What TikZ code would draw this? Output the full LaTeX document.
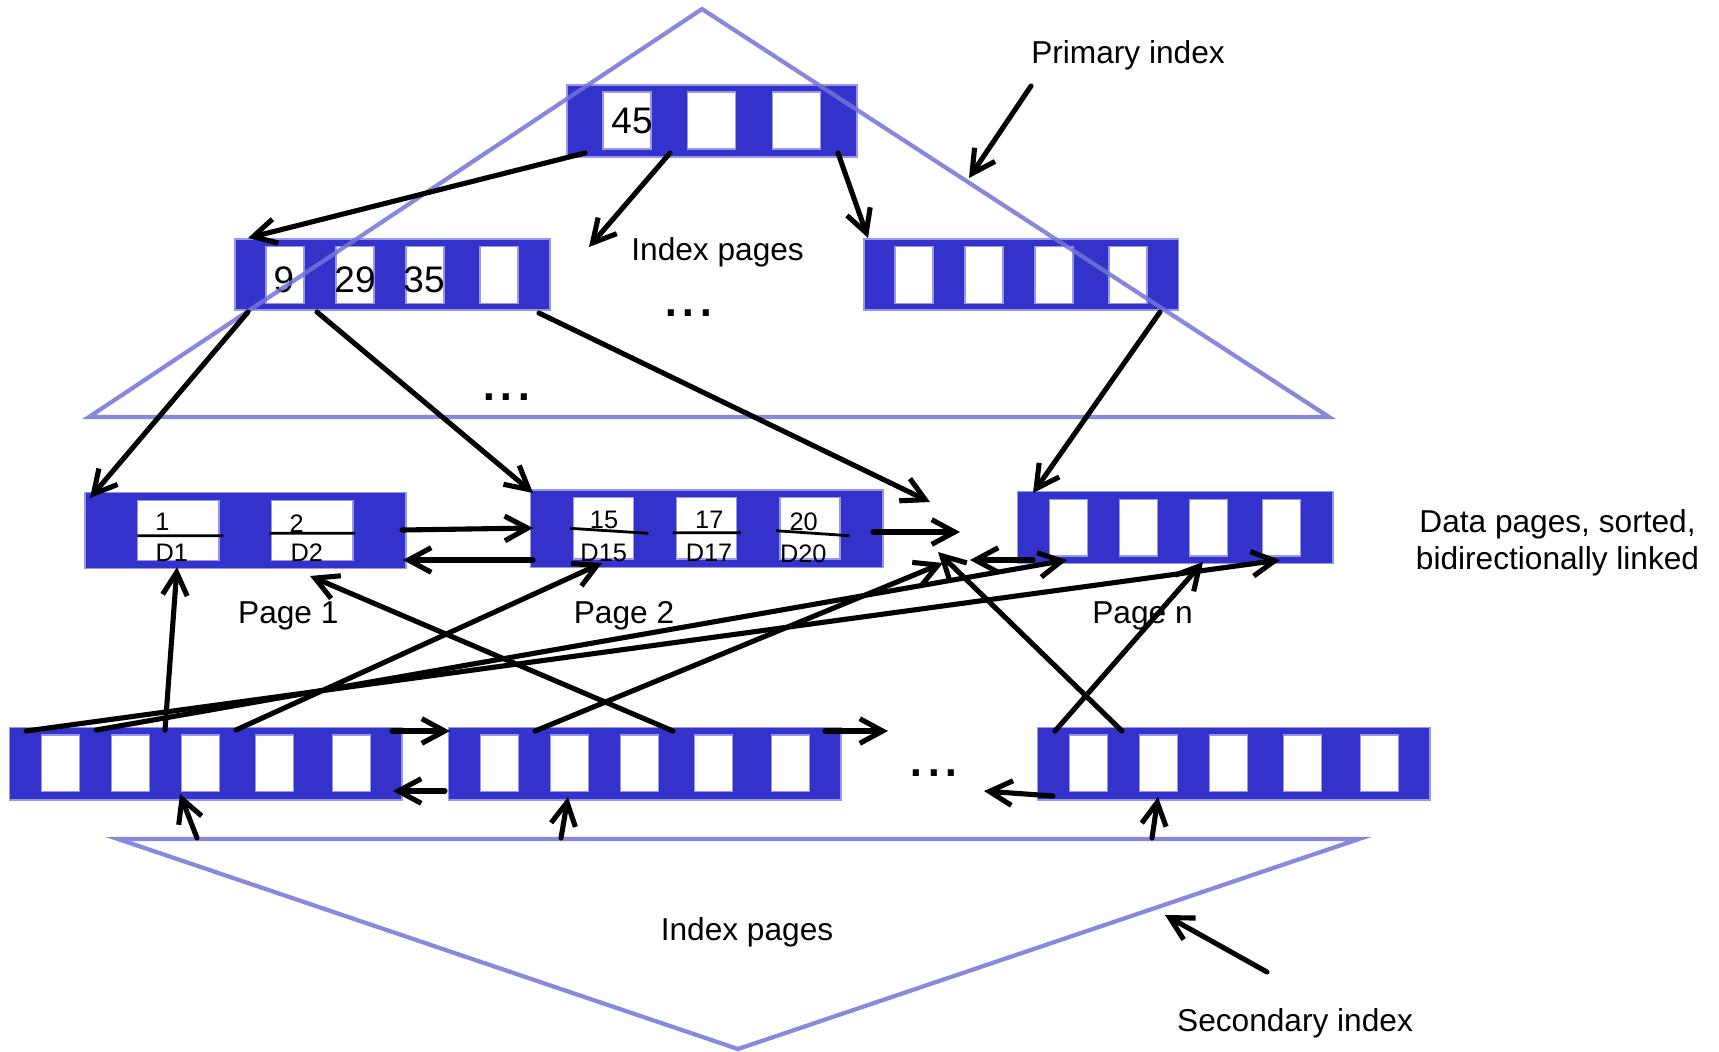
\documentclass[tikz,border=0pt]{standalone}
\usepackage{fontspec}
\setmainfont{Liberation Sans}
\usetikzlibrary{arrows.meta}
\definecolor{pageblue}{RGB}{51,51,204}
\definecolor{cellline}{RGB}{150,150,235}
\definecolor{treeline}{RGB}{115,115,215}
\begin{document}
\begin{tikzpicture}
  [x=0.01cm,y=-0.01cm,
   every node/.style={inner sep=0pt,outer sep=0pt},
   page/.style={rectangle,anchor=north west,fill=pageblue,draw=cellline,line width=0.4pt},
   cell/.style={rectangle,anchor=north west,fill=white,draw=cellline,line width=0.4pt},
   link/.style={-{Straight Barb[length=6.5pt,width=7pt]},line width=1.45pt,line cap=round},
   tree/.style={draw=treeline,draw opacity=0.85,line width=1.2pt},
   lbl/.style={font=\fontsize{9}{10.5}\selectfont},
   key/.style={font=\fontsize{10.5}{12}\selectfont},
   rec/.style={font=\fontsize{7.2}{8}\selectfont},
   dots/.style={font=\fontsize{18}{20}\selectfont}]
  \useasboundingbox (0,0) rectangle (1719,1051);

  \node[page,minimum width=2.9cm,minimum height=0.72cm] (root) at (567,85) {};
  \foreach \i/\dx/\txt in {1/36/45,2/120.5/{},3/205.5/{}}
    \node[cell,minimum width=0.48cm,minimum height=0.57cm] (root\i) at (567+\dx,92) {};
  \node[key] (k45) at (632,121) {45};

  \node[page,minimum width=3.15cm,minimum height=0.71cm] (idxl) at (235,239) {};
  \foreach \i/\dx in {1/31,2/101,3/171,4/245}
    \node[cell,minimum width=0.38cm,minimum height=0.57cm] (idxl\i) at (235+\dx,246.7) {};
  \foreach \name/\x/\txt in {k9/284/9,k29/355/29,k35/424/35}
    \node[key] (\name) at (\x,280) {\txt};

  \node[page,minimum width=3.145cm,minimum height=0.71cm] (idxr) at (864,239) {};
  \foreach \i/\dx in {1/31,2/101,3/171,4/245}
    \node[cell,minimum width=0.38cm,minimum height=0.57cm] (idxr\i) at (864+\dx,246.7) {};

  \node[page,minimum width=3.207cm,minimum height=0.756cm] (page1) at (85,492.7) {};
  \foreach \i/\dx in {1/52.5,2/186.5}
    \node[cell,minimum width=0.815cm,minimum height=0.6cm] (page1\i) at (85+\dx,500.7) {};

  \node[page,minimum width=3.52cm,minimum height=0.773cm] (page2) at (530.7,490) {};
  \foreach \i/\dx in {1/42.6,2/146,3/249.3}
    \node[cell,minimum width=0.6cm,minimum height=0.617cm] (page2\i) at (530.7+\dx,497.3) {};

  \node[page,minimum width=3.154cm,minimum height=0.716cm] (pagen) at (1017.3,491.7) {};
  \foreach \i/\dx in {1/32,2/102,3/172,4/245.4}
    \node[cell,minimum width=0.38cm,minimum height=0.567cm] (pagen\i) at (1017.3+\dx,499.3) {};

  \foreach \s/\x in {sec1/9.3,sec2/448.3,sec3/1037.3}{
    \node[page,minimum width=3.924cm,minimum height=0.727cm] (\s) at (\x,727.3) {};
    \foreach \i/\dx in {1/32,2/102,3/172,4/246,5/323}
      \node[cell,minimum width=0.38cm,minimum height=0.567cm] (\s\i) at (\x+\dx,735) {};
  }

  \foreach \name/\x/\y/\txt in {p1k1/162.5/522/1, p1d1/171.7/553/D1, p1k2/296.7/523.5/2, p1d2/306.7/552.7/D2,
      p2k1/604/520/15, p2d1/603.7/553/D15, p2k2/709.3/520/17, p2d2/709/553/D17, p2k3/803.7/522/20, p2d3/803.3/554/D20}
    \node[rec] (\name) at (\x,\y) {\txt};
  \draw[line width=0.8pt] (137.3,535.7) -- (223.3,535.7) (269.3,533.3) -- (355,533.3)
    (570,528.3) -- (648.3,533.3) (672.7,532.7) -- (741,532.7) (776,530.7) -- (849.3,535.7);

  \draw[tree] (89,417) -- (702,9) -- (1329,417) -- cycle;
  \draw[tree] (118,839) -- (1359,839) -- (738,1049) -- cycle;

  \node[lbl] (primlbl) at (1128,55) {Primary index};
  \node[lbl] (toppages) at (717.6,252) {Index pages};
  \node[dots] (topdots) at (688.5,313) {...};
  \node[dots] (middots) at (506.5,397) {...};
  \node[lbl] (lbl1) at (288.3,616) {Page 1};
  \node[lbl] (lbl2) at (624,616) {Page 2};
  \node[lbl] (lbln) at (1142.5,616) {Page n};
  \node[lbl,align=center] (datalbl) at (1557.5,543) {Data pages, sorted,\\bidirectionally linked};
  \node[dots] (lowdots) at (934,773) {...};
  \node[lbl] (lowpages) at (747,932.5) {Index pages};
  \node[lbl] (seclbl) at (1295,1023.5) {Secondary index};

  \coordinate (root1o) at (585,153);  \coordinate (idxlin) at (248,238);
  \coordinate (root2o) at (670,153);  \coordinate (pagesin) at (589,247);
  \coordinate (root3o) at (838,153);  \coordinate (idxrin) at (868,238);
  \coordinate (idxl1o) at (248,312);  \coordinate (page1in) at (90,498);
  \coordinate (idxl2o) at (317,312);  \coordinate (page2in) at (533,493);
  \coordinate (idxl4o) at (539,313);  \coordinate (gapin) at (930,502);
  \coordinate (idxr4o) at (1160,312); \coordinate (pagenin) at (1033,493);
  \coordinate (page1r) at (402,530);  \coordinate (page2l) at (533,528);
  \coordinate (page2lb) at (533,560); \coordinate (page1rb) at (403,560);
  \coordinate (page2r) at (873,532);  \coordinate (gapr) at (960,532);
  \coordinate (pagenl) at (1033,560); \coordinate (gapl) at (970,560);
  \coordinate (sec1a) at (26,731);    \coordinate (pn4) at (1280,560);
  \coordinate (sec1b) at (96,730);    \coordinate (pn1) at (1067,560);
  \coordinate (sec1c) at (165,730);   \coordinate (d1) at (177,567);
  \coordinate (sec1d) at (236,730);   \coordinate (d15) at (602,563);
  \coordinate (sec2a) at (535,731);   \coordinate (gap1) at (943,563);
  \coordinate (sec2b) at (673,731);   \coordinate (d2) at (310,576);
  \coordinate (sec3a) at (1055,731);  \coordinate (pn3) at (1203,562);
  \coordinate (sec3b) at (1122,731);  \coordinate (gap2) at (938,552);
  \coordinate (sec1r) at (392,731);   \coordinate (sec2l) at (450,731);
  \coordinate (sec2lb) at (445,791);  \coordinate (sec1rb) at (393,791);
  \coordinate (sec2r) at (825,731);   \coordinate (dotsr) at (888,731);
  \coordinate (sec3l) at (1053,796);  \coordinate (dotsl) at (984,791);
  \coordinate (low1) at (197,838);    \coordinate (sec1in) at (180,794);
  \coordinate (low2) at (561,838);    \coordinate (sec2in) at (568,797);
  \coordinate (low3) at (1152,838);   \coordinate (sec3in) at (1158,797);
  \coordinate (primo) at (1031,86);   \coordinate (primin) at (969,178);
  \coordinate (seco) at (1267,972);   \coordinate (secin) at (1165,915);

  \foreach \from/\to in {root1o/idxlin, root2o/pagesin, root3o/idxrin, idxl1o/page1in, idxl2o/page2in,
      idxl4o/gapin, idxr4o/pagenin, page1r/page2l, page2lb/page1rb, page2r/gapr, pagenl/gapl,
      sec1a/pn4, sec1b/pn1, sec1c/d1, sec1d/d15, sec2a/gap1, sec2b/d2, sec3a/pn3, sec3b/gap2,
      sec1r/sec2l, sec2lb/sec1rb, sec2r/dotsr, sec3l/dotsl, low1/sec1in, low2/sec2in, low3/sec3in,
      primo/primin, seco/secin}
    \draw[link] (\from) -- (\to);

\end{tikzpicture}
\end{document}
